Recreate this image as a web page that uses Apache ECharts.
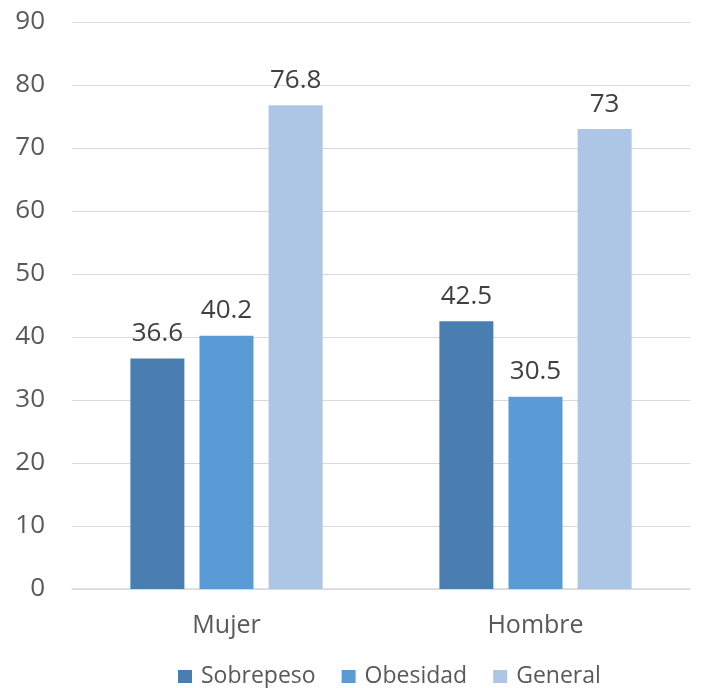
<!DOCTYPE html>
<html>
<head>
<meta charset="utf-8">
<script src="https://cdn.jsdelivr.net/npm/echarts@6/dist/echarts.min.js"></script>
<style>
  html, body { margin: 0; padding: 0; background: #fff; }
  #chart { width: 722px; height: 688px; }
</style>
</head>
<body>
<div id="chart"></div>
<script>
const categories = ['Mujer', 'Hombre'];
const sobrepeso = [36.6, 42.5];
const obesidad = [40.2, 30.5];
const general = [76.8, 73];
const yTicks = [0, 10, 20, 30, 40, 50, 60, 70, 80, 90];

const FONT = '"Open Sans", "Noto Sans", sans-serif';

function barSeries(name, data, color) {
  return {
    name: name,
    type: 'bar',
    data: data,
    barWidth: 54,
    barGap: '28%',
    itemStyle: { color: color },
    label: {
      show: true,
      position: 'top',
      distance: 12,
      color: '#404040',
      fontSize: 26,
      fontFamily: FONT
    }
  };
}

const chart = echarts.init(document.getElementById('chart'));
chart.setOption({
  animation: false,
  grid: { left: 72, right: 32, top: 22, bottom: 99 },
  legend: {
    bottom: 0,
    left: 178,
    padding: 0,
    itemWidth: 14,
    itemHeight: 13,
    itemGap: 26,
    icon: 'rect',
    textStyle: { color: '#595959', fontSize: 23, fontFamily: FONT, padding: [0, 0, 0, 4] }
  },
  xAxis: {
    type: 'category',
    data: categories,
    axisLine: { lineStyle: { color: '#d9d9d9', width: 1.5 } },
    axisTick: { show: false },
    axisLabel: { color: '#595959', fontSize: 25, fontFamily: FONT, margin: 24 }
  },
  yAxis: {
    type: 'value',
    min: yTicks[0],
    max: yTicks[yTicks.length - 1],
    interval: 10,
    axisLine: { show: false },
    axisTick: { show: false },
    splitLine: { lineStyle: { color: '#d9d9d9', width: 1 } },
    axisLabel: { color: '#595959', fontSize: 26, fontFamily: FONT, margin: 27 }
  },
  series: [
    barSeries('Sobrepeso', sobrepeso, '#4a7eb0'),
    barSeries('Obesidad', obesidad, '#5b9bd5'),
    barSeries('General', general, '#adc6e6')
  ]
});
</script>
</body>
</html>
